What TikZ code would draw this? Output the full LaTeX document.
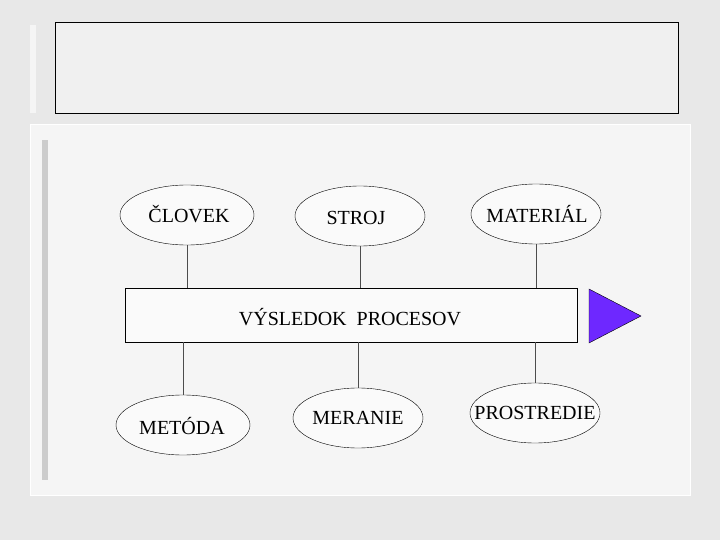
\documentclass[tikz,border=0pt]{standalone}
\usepackage{fontspec}
\setmainfont{Liberation Serif}
\usetikzlibrary{shapes.geometric}
\begin{document}
\begin{tikzpicture}[x=1pt,y=-1pt,
  ell/.style={draw=black,fill=white!96!gray,ellipse,minimum width=134pt,minimum height=60pt,inner sep=0pt},
  lab/.style={font=\fontsize{20}{24}\selectfont,inner sep=0pt},
  conn/.style={draw=black!70,line width=0.6pt}]
\useasboundingbox (0,0) rectangle (720,540);
\fill[gray!18] (0,0) rectangle (720,540);
\fill[gray!8] (30,125) rectangle (690,495);
\draw[white,line width=1pt] (30,125) rectangle (690,495);
\fill[gray!40] (42,140) rectangle (48,480);
\fill[gray!8] (30,25) rectangle (36,113);
\node[draw=black,fill=gray!12,minimum width=623pt,minimum height=91pt,anchor=north west,inner sep=0pt] (top) at (55,22) {};
\node[ell] (clovek) at (187,215) {};
\node[lab] at (189,214) {ČLOVEK};
\node[ell,minimum width=130pt] (stroj) at (360,216) {};
\node[lab] at (356,218) {STROJ};
\node[ell,minimum width=130pt] (material) at (536,214) {};
\node[lab] at (537,214) {MATERIÁL};
\node[draw=black,fill=white!96!gray,minimum width=452pt,minimum height=54pt,inner sep=0pt] (vys) at (351,315) {};
\node[lab] at (350,317) {VÝSLEDOK\ \ PROCESOV};
\node[ell] (metoda) at (183,425) {};
\node[lab] at (182,426) {METÓDA};
\node[ell,minimum width=130pt] (meranie) at (358,418) {};
\node[lab] at (358,418) {MERANIE};
\node[ell,minimum width=130pt] (prostredie) at (535,413) {};
\node[lab] at (535,413) {PROSTREDIE};
\draw[conn] (clovek.south) -- (clovek.south |- vys.north);
\draw[conn] (stroj.south) -- (stroj.south |- vys.north);
\draw[conn] (material.south) -- (material.south |- vys.north);
\draw[conn] (metoda.north |- vys.south) -- (metoda.north);
\draw[conn] (meranie.north |- vys.south) -- (meranie.north);
\draw[conn] (prostredie.north |- vys.south) -- (prostredie.north);
\coordinate (t1) at (589,289);
\coordinate (t2) at (589,343);
\coordinate (t3) at (641,316);
\draw[black,fill={rgb,255:red,110;green,40;blue,255}] (t1) -- (t2) -- (t3) -- cycle;
\end{tikzpicture}
\end{document}
